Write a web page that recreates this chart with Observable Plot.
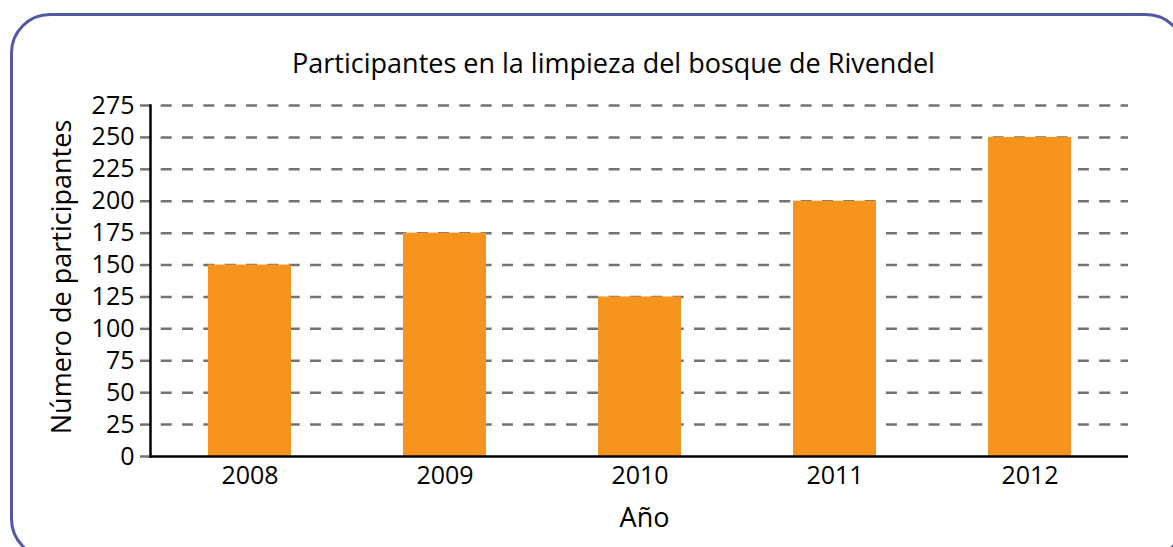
<!DOCTYPE html>
<html><head><meta charset="utf-8">
<script src="https://cdn.jsdelivr.net/npm/d3@7"></script>
<script src="https://cdn.jsdelivr.net/npm/@observablehq/plot@0.6"></script>
<style>
html,body{margin:0;padding:0;background:#fff;overflow:hidden;}
#wrap{position:relative;width:1173px;height:547px;overflow:hidden;background:#fff;}
#box{position:absolute;left:9.5px;top:12.5px;width:1176px;height:546px;border:3.5px solid #5257a6;border-radius:40px;box-sizing:border-box;}
#chart{position:absolute;left:0;top:0;}
</style></head><body>
<div id="wrap"><div id="box"></div><div id="chart"></div></div>
<script>
const title = "Participantes en la limpieza del bosque de Rivendel";
const xLabel = "Año";
const yLabel = "Número de participantes";
const years = ["2008", "2009", "2010", "2011", "2012"];
const participants = [150, 175, 125, 200, 250];
const yTicks = [0, 25, 50, 75, 100, 125, 150, 175, 200, 225, 250, 275];

const data = years.map((year, i) => ({year, value: participants[i]}));
const FONT = "Open Sans";

const chart = Plot.plot({
  width: 1173,
  height: 547,
  marginLeft: 150,
  marginRight: 45,
  marginTop: 105,
  marginBottom: 91,
  style: {fontFamily: FONT, fontSize: "25px", color: "black", background: "transparent", overflow: "visible"},
  x: {type: "band", domain: years, paddingInner: 0.576, paddingOuter: 0.288, axis: null},
  y: {domain: [0, 275], axis: null},
  marks: [
    Plot.ruleY(yTicks.filter(d => d > 0), {stroke: "#737373", strokeWidth: 2.5, strokeDasharray: "11,10.33", strokeDashoffset: 10.63}),
    Plot.barY(data, {x: "year", y: "value", fill: "#f7941d"}),
    Plot.axisY({ticks: yTicks, tickSize: 10, tickPadding: 6, stroke: "#737373", strokeWidth: 2.5, fill: "black", fontSize: 25, label: null}),
    Plot.axisX({tickSize: 0, tickPadding: 10, fill: "black", fontSize: 25, label: null}),
    Plot.frame({anchor: "left", stroke: "black", strokeWidth: 2.5}),
    Plot.ruleY([0], {stroke: "black", strokeWidth: 2.5}),
    Plot.text([title], {frameAnchor: "top", lineAnchor: "bottom", dy: -33, dx: -26, fontSize: 27, fill: "black", style: "letter-spacing:0.45px"}),
    Plot.text([xLabel], {frameAnchor: "bottom", lineAnchor: "bottom", dy: 70, dx: 5, fontSize: 27, fill: "black"}),
    Plot.text([yLabel], {frameAnchor: "left", rotate: -90, textAnchor: "middle", lineAnchor: "middle", dx: -88, dy: -4, fontSize: 27, fill: "black"})
  ]
});
document.getElementById("chart").appendChild(chart);
</script>
</body></html>
